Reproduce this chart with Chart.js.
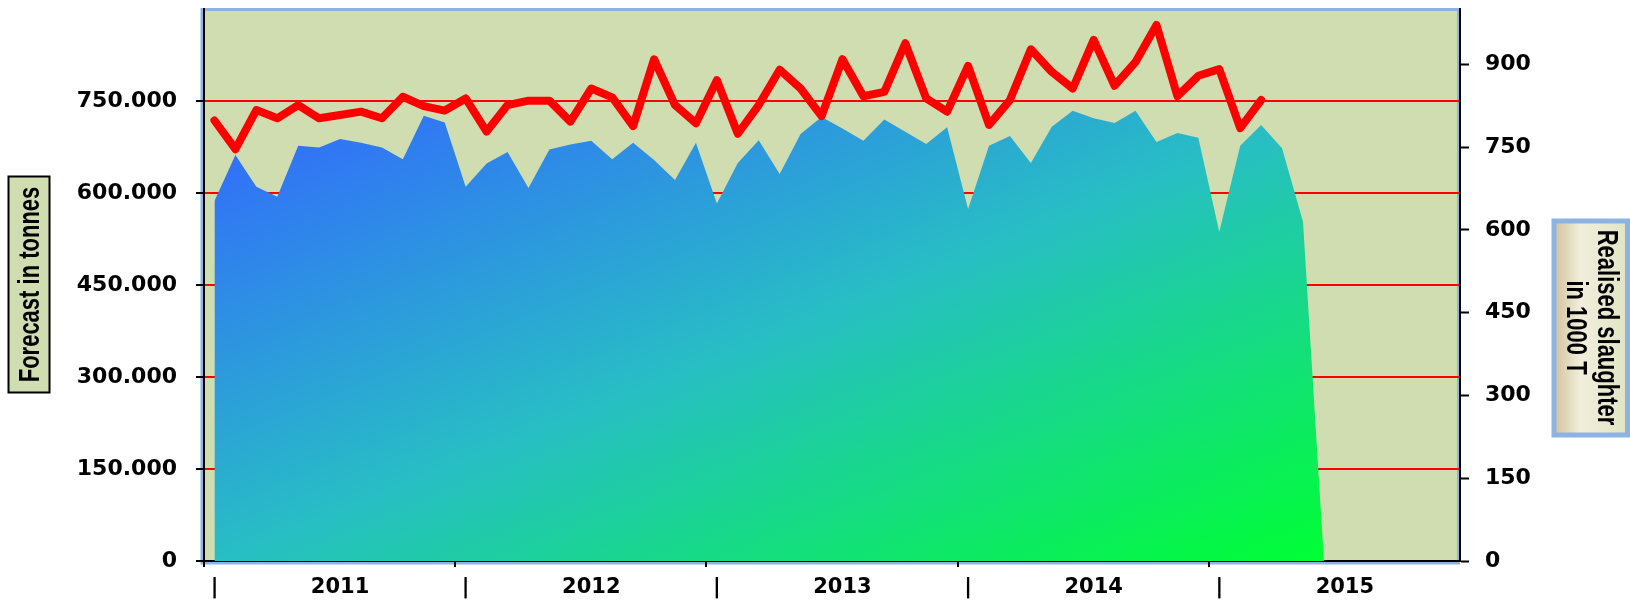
<!DOCTYPE html>
<html>
<head>
<meta charset="utf-8">
<script src="https://cdn.jsdelivr.net/npm/chart.js@4.4.1/dist/chart.umd.min.js"></script>
<style>
  html, body { margin: 0; padding: 0; background: #fff; }
  canvas { display: block; }
</style>
</head>
<body>
<canvas id="slaughter-chart" width="1630" height="600"></canvas>
<script>
// years on the category axis, one category per month
var years = [ '2011', '2012', '2013', '2014', '2015' ];
var monthNames = [ 'Jan', 'Feb', 'Mar', 'Apr', 'May', 'Jun', 'Jul', 'Aug', 'Sep', 'Oct', 'Nov', 'Dec' ];
var months = [];
years.forEach( function( y ) {
    monthNames.forEach( function( m ) { months.push( m + ' ' + y ); } );
} );

// forecast in tonnes (area, left axis)
var forecast = [
    587000, 662000, 610000, 594000, 677000, 674000, 688000, 682000, 674000, 655000, 726000, 715000,
    610000, 648000, 667000, 608000, 671000, 679000, 685000, 655000, 682000, 654000, 621000, 682000,
    583000, 649000, 686000, 631000, 696000, 724000, 705000, 685000, 720000, 700000, 680000, 707000,
    574000, 677000, 693000, 649000, 708000, 734000, 722000, 714000, 734000, 683000, 698000, 690000,
    537000, 677000, 711000, 673000, 553000, 0, null, null, null, null, null, null
];

// realised slaughter in 1000 T (red line, right axis)
var slaughter = [
    798, 746, 817, 802, 826, 802, 808, 814, 802, 841, 824, 816,
    838, 778, 826, 834, 834, 796, 856, 840, 788, 909, 826, 793,
    871, 774, 826, 890, 856, 806, 909, 842, 850, 938, 838, 814,
    897, 790, 835, 927, 886, 856, 944, 861, 904, 971, 842, 879,
    891, 784, 835, null, null, null, null, null, null, null, null, null
];

// tick labels: a bar at each January, the year in mid year
var xTickLabels = months.map( function( m, i ) {
    if ( i % 12 === 0 ) return '|';
    if ( i % 12 === 6 ) return years[ Math.floor( i / 12 ) ];
    return '';
} );
var leftTicks = [ 0, 150000, 300000, 450000, 600000, 750000 ];
var rightTicks = [ 0, 150, 300, 450, 600, 750, 900 ];

var leftTitle = 'Forecast in tonnes';
var rightTitle = [ 'Realised slaughter', 'in 1000 T' ];

function fmtTonnes( v ) {
    return v === 0 ? '0' : Math.round( v / 1000 ) + '.000';
}

function areaFill( c ) {
    var chart = c.chart;
    if ( !chart.chartArea ) return '#3366FF';
    var xs = chart.scales.x, ys = chart.scales.y;
    var last = 0, top = 0;
    forecast.forEach( function( v, i ) { if ( v !== null ) { last = i; top = Math.max( top, v ); } } );
    var x0 = xs.getPixelForValue( 0 ), x1 = xs.getPixelForValue( last );
    var y0 = ys.getPixelForValue( top ), y1 = ys.getPixelForValue( 0 );
    var W = x1 - x0, H = y1 - y0;
    var k = 2 / ( 1 / ( W * W ) + 1 / ( H * H ) );
    var g = chart.ctx.createLinearGradient( x0, y0, x0 + k / W, y0 + k / H );
    g.addColorStop( 0, '#3366FF' );
    g.addColorStop( 0.5, '#28BEC4' );
    g.addColorStop( 1, '#00FF33' );
    return g;
}

var framePlugin = {
    id: 'frame',
    beforeDraw: function( chart ) {
        var ctx = chart.ctx, a = chart.chartArea;
        ctx.save();
        ctx.fillStyle = '#CFDDB0';
        ctx.fillRect( a.left, a.top, a.right - a.left, a.bottom - a.top );
        ctx.strokeStyle = '#8DB3E2';
        ctx.lineWidth = 3;
        ctx.strokeRect( a.left - 2, a.top + 0.5, a.right - a.left + 0.5, a.bottom - a.top + 1.5 );
        ctx.restore();
    },
    afterDraw: function( chart ) {
        var ctx = chart.ctx;
        ctx.save();
        // left title box
        ctx.fillStyle = '#CFDDB0';
        ctx.fillRect( 8.5, 176.5, 41, 216 );
        ctx.strokeStyle = '#000';
        ctx.lineWidth = 2;
        ctx.strokeRect( 8.5, 176.5, 41, 216 );
        ctx.save();
        ctx.translate( 29, 284.5 );
        ctx.scale( 1.35, 1 );
        ctx.rotate( -Math.PI / 2 );
        ctx.font = 'bold 22px "Liberation Sans"';
        ctx.fillStyle = '#000';
        ctx.textAlign = 'center';
        ctx.textBaseline = 'middle';
        ctx.fillText( leftTitle, 0, 1 );
        ctx.restore();

        // right title box
        var g = ctx.createLinearGradient( 1556, 0, 1626, 0 );
        g.addColorStop( 0, '#D3C6A0' );
        g.addColorStop( 0.35, '#F2EEDC' );
        g.addColorStop( 1, '#E1E5C5' );
        ctx.fillStyle = g;
        ctx.fillRect( 1554, 221, 73.5, 214 );
        ctx.strokeStyle = '#8DB3E2';
        ctx.lineWidth = 5;
        ctx.strokeRect( 1554, 221, 73.5, 214 );
        ctx.save();
        ctx.translate( 1591, 327.5 );
        ctx.scale( 1.35, 1 );
        ctx.rotate( Math.PI / 2 );
        ctx.font = 'bold 22px "Liberation Sans"';
        ctx.fillStyle = '#000';
        ctx.textAlign = 'center';
        ctx.textBaseline = 'middle';
        ctx.fillText( rightTitle[ 0 ], 0, -11.5 );
        ctx.fillText( rightTitle[ 1 ], 0, 12 );
        ctx.restore();
        ctx.restore();
    }
};

Chart.defaults.font.family = '"DejaVu Sans"';
Chart.defaults.color = '#000';

var ctx = document.getElementById( 'slaughter-chart' ).getContext( '2d' );
new Chart( ctx, {
    type: 'line',
    data: {
        labels: months,
        datasets: [ {
            label: 'Realised slaughter in 1000 T',
            data: slaughter,
            yAxisID: 'y1',
            borderColor: '#FF0000',
            borderWidth: 8,
            borderCapStyle: 'round',
            borderJoinStyle: 'round',
            pointRadius: 0,
            fill: false,
            tension: 0,
            order: 0
        }, {
            label: 'Forecast in tonnes',
            data: forecast,
            yAxisID: 'y',
            backgroundColor: areaFill,
            borderWidth: 0,
            pointRadius: 0,
            fill: 'origin',
            tension: 0,
            order: 1
        } ]
    },
    options: {
        responsive: false,
        devicePixelRatio: 1,
        animation: false,
        layout: { padding: { top: 9, left: 0, right: 0, bottom: 0 } },
        plugins: {
            legend: { display: false },
            tooltip: { enabled: false }
        },
        scales: {
            x: {
                type: 'category',
                offset: true,
                grid: {
                    offset: true,
                    drawOnChartArea: false,
                    color: function( c ) { return ( c.index !== undefined && c.index % 12 === 0 ) ? '#000' : 'rgba(0,0,0,0)'; },
                    lineWidth: 2,
                    tickLength: 6
                },
                border: { color: '#000', width: 2 },
                ticks: {
                    autoSkip: false,
                    maxRotation: 0,
                    minRotation: 0,
                    padding: 8,
                    font: { size: 21, weight: 'bold' },
                    callback: function( v, i ) { return xTickLabels[ i ]; }
                },
                afterFit: function( s ) { s.height = 39; s.paddingLeft = 0; s.paddingRight = 0; }
            },
            y: {
                position: 'left',
                min: 0,
                max: 900000,
                ticks: {
                    stepSize: 150000,
                    padding: 19,
                    font: { size: 22, weight: 'bold' },
                    callback: function( v ) { return leftTicks.indexOf( v ) >= 0 ? fmtTonnes( v ) : ''; }
                },
                grid: {
                    color: function( c ) { return ( c.tick && c.tick.value > 0 && leftTicks.indexOf( c.tick.value ) >= 0 ) ? '#FF0000' : 'rgba(0,0,0,0)'; },
                    tickColor: function( c ) { return ( c.tick && leftTicks.indexOf( c.tick.value ) >= 0 ) ? '#000' : 'rgba(0,0,0,0)'; },
                    lineWidth: 2,
                    tickWidth: 2,
                    tickLength: 8
                },
                border: { color: '#000', width: 2 },
                afterFit: function( s ) { s.width = 204; s.paddingTop = 0; s.paddingBottom = 0; }
            },
            y1: {
                position: 'right',
                min: 0,
                max: 1000,
                ticks: {
                    stepSize: 150,
                    padding: 16,
                    font: { size: 22, weight: 'bold' },
                    callback: function( v ) { return rightTicks.indexOf( v ) >= 0 ? String( v ) : ''; }
                },
                grid: {
                    drawOnChartArea: false,
                    tickColor: function( c ) { return ( c.tick && rightTicks.indexOf( c.tick.value ) >= 0 ) ? '#000' : 'rgba(0,0,0,0)'; },
                    tickWidth: 2,
                    tickLength: 9
                },
                border: { color: '#000', width: 2 },
                afterFit: function( s ) { s.width = 170; s.paddingTop = 0; s.paddingBottom = 0; }
            }
        }
    },
    plugins: [ framePlugin ]
} );
</script>
</body>
</html>
